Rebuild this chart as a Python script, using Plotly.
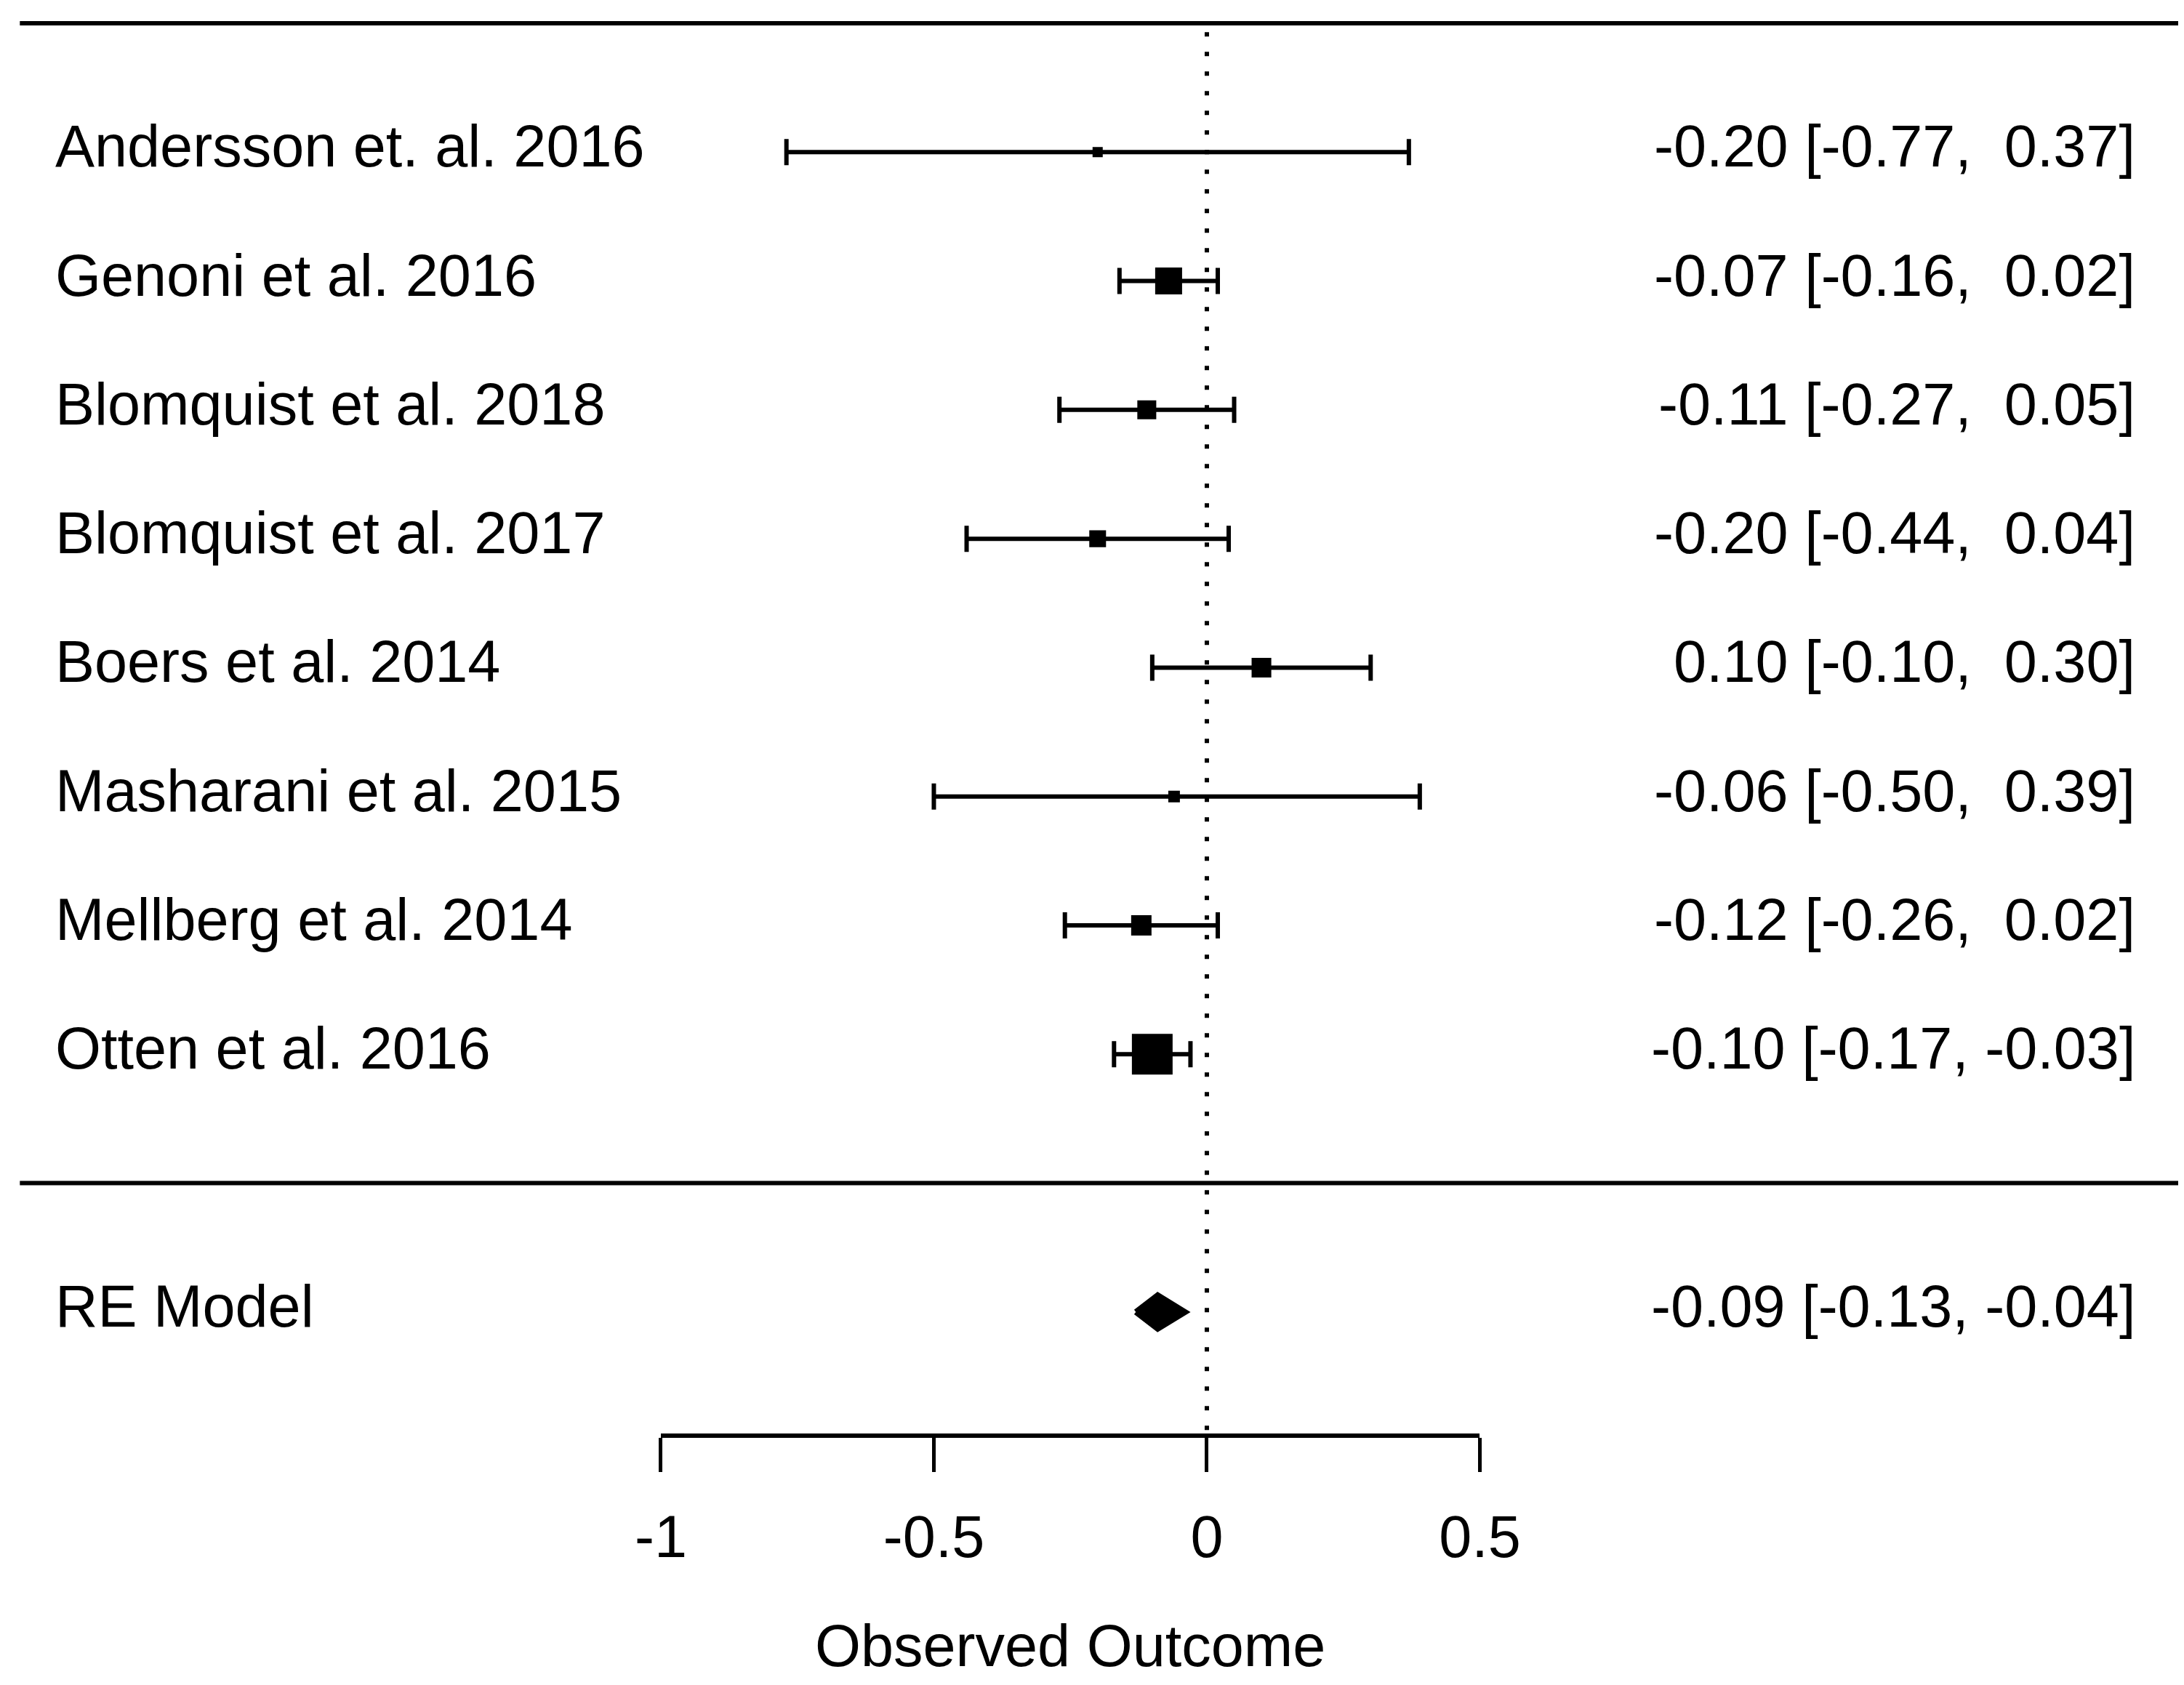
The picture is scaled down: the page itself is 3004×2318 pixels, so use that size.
import plotly.graph_objects as go

# ---------------- data ----------------
studies = [
    "Andersson et. al. 2016",
    "Genoni et al. 2016",
    "Blomquist et al. 2018",
    "Blomquist et al. 2017",
    "Boers et al. 2014",
    "Masharani et al. 2015",
    "Mellberg et al. 2014",
    "Otten et al. 2016",
]
estimates = [-0.20, -0.07, -0.11, -0.20, 0.10, -0.06, -0.12, -0.10]
ci_lower = [-0.77, -0.16, -0.27, -0.44, -0.10, -0.50, -0.26, -0.17]
ci_upper = [0.37, 0.02, 0.05, 0.04, 0.30, 0.39, 0.02, -0.03]
weights = [1.5, 19.1, 10.7, 8.4, 11.5, 3.0, 12.2, 33.6]  # relative study weights (%)

summary_label = "RE Model"
summary_est = -0.09
summary_lower = -0.13
summary_upper = -0.04

tick_values = [-1, -0.5, 0, 0.5]
tick_labels = ["-1", "-0.5", "0", "0.5"]
x_title = "Observed Outcome"

# ---------------- style ----------------
W, H = 3004, 2318
FONT = "Liberation Sans, Arial, Helvetica, sans-serif"
FS = 81
X_MIN, X_MAX = -2.1997, 1.8003
Y_MIN, Y_MAX = -3.939, 9.135
AXIS_Y = -1.96
MIN_SQ, MAX_SQ = 12, 54
DIAMOND_HALF_H = 0.13
LW = 6

k = len(studies)
rows = list(range(k, 0, -1))
summary_row = -1

wmin, wmax = min(weights), max(weights)
sizes = [MIN_SQ + (w - wmin) / (wmax - wmin) * (MAX_SQ - MIN_SQ) for w in weights]


def fmt(est, lb, ub):
    s = f"{est:5.2f} [{lb:5.2f}, {ub:5.2f}]"
    return s.strip().replace(" ", "\u00a0")


fig = go.Figure()

# study estimates with CIs
fig.add_trace(go.Scatter(
    x=estimates, y=rows, mode="markers",
    marker=dict(symbol="square", size=sizes, color="#000000", opacity=1,
                line=dict(width=2, color="#000000")),
    error_x=dict(type="data", symmetric=False,
                 array=[u - e for u, e in zip(ci_upper, estimates)],
                 arrayminus=[e - l for e, l in zip(estimates, ci_lower)],
                 color="#000000", thickness=LW, width=18),
    opacity=1, showlegend=False, hoverinfo="skip", cliponaxis=False,
))

# summary diamond
fig.add_trace(go.Scatter(
    x=[summary_lower, summary_est, summary_upper, summary_est, summary_lower],
    y=[summary_row, summary_row + DIAMOND_HALF_H, summary_row,
       summary_row - DIAMOND_HALF_H, summary_row],
    mode="lines", fill="toself", fillcolor="#000000",
    line=dict(color="#000000", width=8),
    showlegend=False, hoverinfo="skip",
))

# dummy trace to activate the visible axis
fig.add_trace(go.Scatter(
    x=[tick_values[0], tick_values[-1]], y=[None, None],
    xaxis="x2", yaxis="y", mode="markers", showlegend=False, hoverinfo="skip",
))

# horizontal separator lines
line_x0, line_x1 = -2.174, 1.780
for yy in (k + 1, 0):
    fig.add_shape(type="line", xref="x", yref="y", x0=line_x0, x1=line_x1,
                  y0=yy, y1=yy, line=dict(color="#000000", width=LW))

# dotted reference line at 0
fig.add_shape(type="line", xref="x", yref="y", x0=0, x1=0, y0=k + 0.93, y1=AXIS_Y,
              line=dict(color="#000000", width=6, dash="6px,21px"))

# labels
LEFT_X = 66 / W
RIGHT_X = 2931 / W
YSHIFT = 8
for name, r, e, l, u in zip(studies, rows, estimates, ci_lower, ci_upper):
    fig.add_annotation(text=name, xref="paper", yref="y", x=LEFT_X, y=r, yshift=YSHIFT,
                       xanchor="left", yanchor="middle", showarrow=False,
                       font=dict(family=FONT, size=FS, color="black"))
    fig.add_annotation(text=fmt(e, l, u), xref="paper", yref="y", x=RIGHT_X, y=r,
                       yshift=YSHIFT, xanchor="right", yanchor="middle", showarrow=False,
                       font=dict(family=FONT, size=FS, color="black"))

fig.add_annotation(text=summary_label, xref="paper", yref="y", x=LEFT_X, y=summary_row,
                   yshift=YSHIFT, xanchor="left", yanchor="middle", showarrow=False,
                   font=dict(family=FONT, size=FS, color="black"))
fig.add_annotation(text=fmt(summary_est, summary_lower, summary_upper),
                   xref="paper", yref="y", x=RIGHT_X, y=summary_row, yshift=YSHIFT,
                   xanchor="right", yanchor="middle", showarrow=False,
                   font=dict(family=FONT, size=FS, color="black"))

d0 = (tick_values[0] - X_MIN) / (X_MAX - X_MIN)
d1 = (tick_values[-1] - X_MIN) / (X_MAX - X_MIN)
axis_pos = (AXIS_Y - Y_MIN) / (Y_MAX - Y_MIN)

# x-axis title (placed as annotation centred under the axis)
fig.add_annotation(text=x_title, xref="paper", yref="paper", x=(d0 + d1) / 2,
                   y=1 - 2256 / H, xanchor="center", yanchor="middle", showarrow=False,
                   font=dict(family=FONT, size=FS, color="black"))

fig.update_layout(
    width=W, height=H,
    margin=dict(l=0, r=0, t=0, b=0, pad=0),
    paper_bgcolor="white", plot_bgcolor="rgba(0,0,0,0)",
    font=dict(family=FONT, size=FS, color="black"),
    showlegend=False,
    xaxis=dict(range=[X_MIN, X_MAX], visible=False, domain=[0, 1], fixedrange=True),
    yaxis=dict(range=[Y_MIN, Y_MAX], visible=False, domain=[0, 1], fixedrange=True),
    xaxis2=dict(
        domain=[d0, d1], range=[tick_values[0], tick_values[-1]],
        anchor="free", position=axis_pos, side="bottom",
        tickmode="array", tickvals=tick_values, ticktext=tick_labels,
        showline=True, linecolor="black", linewidth=LW,
        ticks="outside", ticklen=47, tickwidth=5, tickcolor="black",
        ticklabelstandoff=20,
        tickfont=dict(family=FONT, size=FS, color="black"),
        showgrid=False, zeroline=False, automargin=False, fixedrange=True,
    ),
)

fig.write_html("out.html")
